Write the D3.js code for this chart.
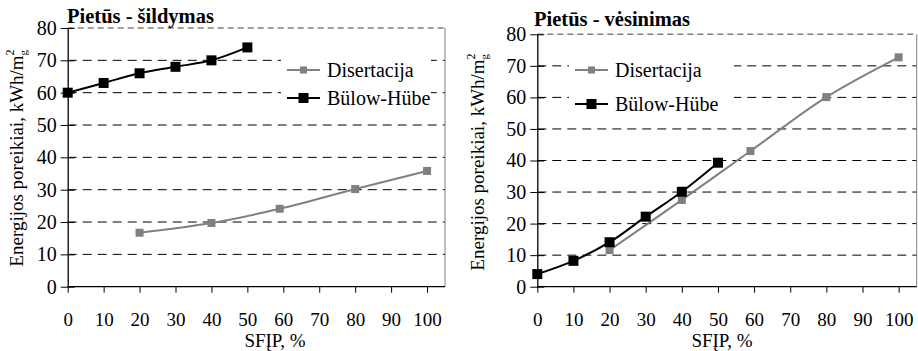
<!DOCTYPE html>
<html>
<head>
<meta charset="utf-8">
<script src="https://cdn.jsdelivr.net/npm/d3@7"></script>
<style>
  html, body { margin: 0; padding: 0; background: #fff; }
  svg text { font-family: "Liberation Serif", "Tinos", "Times New Roman", "DejaVu Serif", "Noto Serif", serif; }
</style>
</head>
<body>
<svg id="chart" width="918" height="351"></svg>
<script>
// Shared axes
const xTickValues = [0, 10, 20, 30, 40, 50, 60, 70, 80, 90, 100];
const yTickValues = [0, 10, 20, 30, 40, 50, 60, 70, 80];
const seriesNames = ["Disertacija", "Bülow-Hübe"];

// Heating (šildymas)
const heatDisX = [20, 40, 59, 80, 100];
const heatDisY = [16.7, 19.7, 24.1, 30.2, 35.8];
const heatBulX = [0, 10, 20, 30, 40, 50];
const heatBulY = [60, 63, 66, 68, 70, 74];

// Cooling (vėsinimas)
const coolDisX = [20, 40, 59, 80, 100];
const coolDisY = [11.6, 27.5, 43.0, 60.1, 72.7];
const coolBulX = [0, 10, 20, 30, 40, 50];
const coolBulY = [4.0, 8.2, 14.1, 22.2, 30.1, 39.3];

const svg = d3.select("#chart");
const GRAY = "#808080";

function drawPanel(cfg) {
  const g = svg.append("g");
  const x = d3.scaleLinear().domain([0, 105]).range([cfg.left, cfg.right]);
  const y = d3.scaleLinear().domain([0, 80]).range([cfg.bottom, cfg.top]);

  // gridlines
  g.selectAll("line.grid").data(yTickValues.filter(v => v > 0 && v < 80)).join("line")
    .attr("x1", cfg.left).attr("x2", cfg.right)
    .attr("y1", d => y(d)).attr("y2", d => y(d))
    .attr("stroke", "#000").attr("stroke-width", 1)
    .attr("stroke-dasharray", "9,6");

  // plot-area border: top dashed gray, right solid gray
  g.append("line").attr("x1", cfg.left).attr("x2", cfg.right)
    .attr("y1", y(80)).attr("y2", y(80))
    .attr("stroke", GRAY).attr("stroke-width", 1.5).attr("stroke-dasharray", "6,4");
  g.append("line").attr("x1", cfg.right).attr("x2", cfg.right)
    .attr("y1", y(80)).attr("y2", y(0))
    .attr("stroke", GRAY).attr("stroke-width", 1);

  // legend box (white, hides gridlines behind it)
  g.append("rect").attr("x", cfg.legX - 6).attr("y", cfg.legY0 - 16)
    .attr("width", cfg.legW).attr("height", cfg.legY1 - cfg.legY0 + 32)
    .attr("fill", "#fff");

  // y axis
  const yAxis = d3.axisLeft(y).tickValues(yTickValues).tickSizeInner(7).tickSizeOuter(0).tickPadding(4);
  const ya = g.append("g").attr("transform", `translate(${cfg.left},0)`).call(yAxis)
    .attr("font-family", null);
  ya.select(".domain").attr("stroke", "#000").attr("stroke-width", 1.3);
  ya.selectAll(".tick line").attr("x2", -7).attr("x1", 7).attr("stroke", "#000");
  ya.selectAll(".tick text").attr("font-size", 20).attr("fill", "#000");

  // x axis
  const xAxis = d3.axisBottom(x).tickValues(xTickValues).tickSizeInner(6).tickSizeOuter(0).tickPadding(20);
  const xa = g.append("g").attr("transform", `translate(0,${cfg.bottom})`).call(xAxis)
    .attr("font-family", null);
  xa.select(".domain").attr("stroke", "#000").attr("stroke-width", 1.3)
    .attr("d", `M${cfg.left},0H${cfg.right}`);
  xa.selectAll(".tick line").attr("stroke", "#000");
  xa.selectAll(".tick text").attr("font-size", 19).attr("fill", "#000");

  // series
  const line = d3.line().x(d => x(d[0])).y(d => y(d[1])).curve(d3.curveCatmullRom.alpha(0.5));
  const dis = d3.zip(cfg.disX, cfg.disY);
  const bul = d3.zip(cfg.bulX, cfg.bulY);
  const series = [
    { pts: dis, color: GRAY, size: 8 },
    { pts: bul, color: "#000", size: 10 }
  ];
  series.forEach(s => {
    g.append("path").attr("d", line(s.pts)).attr("fill", "none")
      .attr("stroke", s.color).attr("stroke-width", 2);
  });
  series.forEach(s => {
    g.selectAll(null).data(s.pts).join("rect")
      .attr("x", d => x(d[0]) - s.size / 2).attr("y", d => y(d[1]) - s.size / 2)
      .attr("width", s.size).attr("height", s.size).attr("fill", s.color);
  });

  // legend entries
  const legRows = [
    { name: seriesNames[0], color: GRAY, size: 7, yy: cfg.legY0 },
    { name: seriesNames[1], color: "#000", size: 10, yy: cfg.legY1 }
  ];
  legRows.forEach(r => {
    g.append("line").attr("x1", cfg.legX).attr("x2", cfg.legX + 33)
      .attr("y1", r.yy).attr("y2", r.yy).attr("stroke", r.color).attr("stroke-width", 2);
    g.append("rect").attr("x", cfg.legX + 16.5 - r.size / 2).attr("y", r.yy - r.size / 2)
      .attr("width", r.size).attr("height", r.size).attr("fill", r.color);
    g.append("text").attr("x", cfg.legX + 40).attr("y", r.yy + 7)
      .attr("font-size", 20).attr("fill", "#000").text(r.name);
  });

  // title
  g.append("text").attr("x", cfg.titleX).attr("y", cfg.titleY)
    .attr("font-size", 20.5).attr("font-weight", "bold").attr("fill", "#000").text(cfg.title);

  // x axis title
  g.append("text").attr("x", cfg.xTitleX).attr("y", cfg.xTitleY)
    .attr("text-anchor", "middle").attr("font-size", 19).attr("fill", "#000").text("SFĮP, %");

  // y axis title with m² and subscript g
  const yt = g.append("text")
    .attr("transform", `translate(${cfg.yTitleX},${cfg.yTitleY}) rotate(-90)`)
    .attr("text-anchor", "middle").attr("font-size", 19).attr("fill", "#000");
  yt.append("tspan").text("Energijos poreikiai, kWh/m");
  yt.append("tspan").attr("font-size", 12).attr("dy", -9).text("2");
  yt.append("tspan").attr("font-size", 11).attr("dx", -6).attr("dy", 13).text("g");
}

drawPanel({
  left: 67.7, right: 445, top: 28, bottom: 286.7,
  disX: heatDisX, disY: heatDisY, bulX: heatBulX, bulY: heatBulY,
  legX: 287, legY0: 70, legY1: 98, legW: 150,
  title: "Pietūs - šildymas", titleX: 67, titleY: 23,
  xTitleX: 275, xTitleY: 346.5,
  yTitleX: 23, yTitleY: 158
});

drawPanel({
  left: 537.3, right: 916.7, top: 34.3, bottom: 286.7,
  disX: coolDisX, disY: coolDisY, bulX: coolBulX, bulY: coolBulY,
  legX: 575, legY0: 70, legY1: 104, legW: 165,
  title: "Pietūs - vėsinimas", titleX: 534, titleY: 26,
  xTitleX: 722, xTitleY: 346.5,
  yTitleX: 484, yTitleY: 162
});
</script>
</body>
</html>
